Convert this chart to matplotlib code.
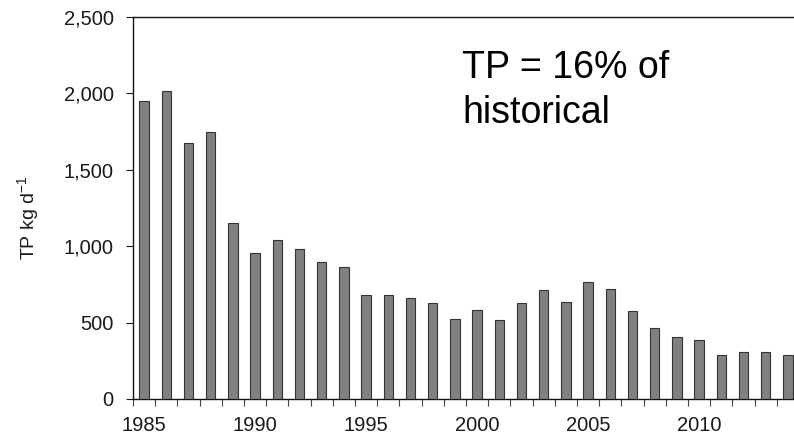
import matplotlib
matplotlib.use("Agg")
import matplotlib.pyplot as plt
from matplotlib.ticker import FuncFormatter, FixedLocator

years = list(range(1985, 2015))
tp_load = [1950, 2015, 1675, 1745, 1152, 955, 1043, 984, 899, 866,
           681, 681, 663, 626, 526, 582, 515, 626, 713, 637,
           768, 718, 576, 465, 406, 388, 290, 308, 308, 286]
year_labels = [1985, 1990, 1995, 2000, 2005, 2010]
y_ticks = [0, 500, 1000, 1500, 2000, 2500]

plt.rcParams['font.family'] = ['Liberation Sans', 'DejaVu Sans']
plt.rcParams['mathtext.fontset'] = 'custom'
plt.rcParams['mathtext.rm'] = 'Liberation Sans'
plt.rcParams['mathtext.it'] = 'Liberation Sans'

fig = plt.figure(figsize=(7.94, 4.38), dpi=100)
W, H = 794, 438
left_px, right_px, top_px, bot_px = 133, 799, 17, 399
ax = fig.add_axes([left_px / W, 1 - bot_px / H, (right_px - left_px) / W, (bot_px - top_px) / H])

idx = list(range(len(years)))
ax.bar(idx, tp_load, width=0.43, color='#808080', edgecolor='#333333', linewidth=0.8, zorder=3)

ax.set_xlim(-0.5, len(years) - 0.5)
ax.set_ylim(0, 2500)
ax.set_yticks(y_ticks)
ax.yaxis.set_major_formatter(FuncFormatter(lambda v, p: f"{int(v):,}"))

ax.xaxis.set_major_locator(FixedLocator([years.index(y) for y in year_labels]))
ax.set_xticklabels([str(y) for y in year_labels])
ax.xaxis.set_minor_locator(FixedLocator([i - 0.5 for i in range(len(years) + 1)]))
ax.tick_params(axis='x', which='major', length=0, pad=12, labelsize=14.5, colors='#1a1a1a')
ax.tick_params(axis='x', which='minor', length=5, width=0.8, color='#444444')
ax.tick_params(axis='y', which='major', length=5, width=0.8, pad=9, labelsize=14.5, colors='#1a1a1a')

for s in ['left', 'bottom', 'top']:
    ax.spines[s].set_linewidth(1.0)
    ax.spines[s].set_color('#111111')
ax.spines['right'].set_visible(False)

ax.set_ylabel(r'TP kg d$\mathregular{^{-1}}$', fontsize=14, color='#1a1a1a')
ax.yaxis.set_label_coords(-0.138, 0.475)

ax.text(0.494, 0.840, 'TP = 16% of', transform=ax.transAxes,
        fontsize=27, ha='left', va='baseline', color='black')
ax.text(0.494, 0.7225, 'historical', transform=ax.transAxes,
        fontsize=27, ha='left', va='baseline', color='black')

fig.savefig('out.png', dpi=100)
